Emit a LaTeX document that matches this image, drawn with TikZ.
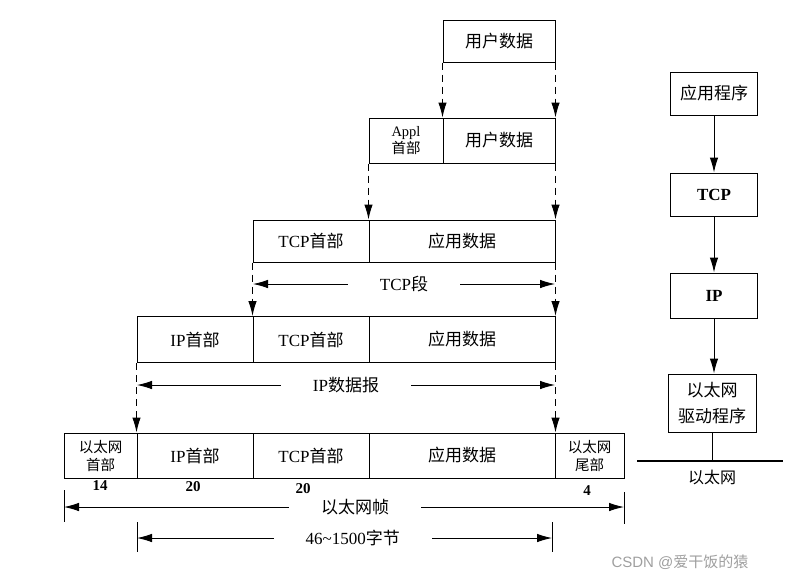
\documentclass[tikz,border=0pt]{standalone}
\usepackage{fontspec}
\setmainfont{Liberation Serif}
\newfontfamily\zh{Noto Sans CJK SC}
\newfontfamily\wmf{Liberation Sans}
\usetikzlibrary{arrows.meta}
\begin{document}
\begin{tikzpicture}[x=1pt,y=-1pt,
  cell/.style={draw,line width=1pt,inner sep=0pt,align=center,font=\fontsize{17}{20}\selectfont},
  smallzh/.style={font=\zh\fontsize{14.5}{18}\selectfont},
  sbox/.style={draw,line width=1pt,inner sep=0pt,minimum width=87pt,align=center,font=\fontsize{17}{26}\selectfont},
  dasharr/.style={line width=1pt,dash pattern=on 7pt off 5pt,-{Latex[length=15pt,width=8.5pt]}},
  dim/.style={line width=0.9pt,{Latex[length=15pt,width=8.5pt]}-{Latex[length=15pt,width=8.5pt]}},
  dimlabel/.style={fill=white,inner xsep=32pt,inner ysep=2pt,font=\fontsize{17}{20}\selectfont},
  num/.style={font=\bfseries\fontsize{15}{17}\selectfont},
  tickline/.style={line width=0.9pt},
  arr/.style={line width=1pt,-{Latex[length=15pt,width=8.5pt]}}
]
\useasboundingbox (0,0) rectangle (797,581);
% row 1
\node[cell,minimum width=112pt,minimum height=42pt] (u1) at (499,41) {\zh 用户数据};
% row 2
\node[cell,minimum width=74pt,minimum height=45pt,font=\fontsize{14.5}{17}\selectfont] (appl2) at (406,140.5) {Appl\\{\zh 首部}};
\node[cell,minimum width=112pt,minimum height=45pt] (u2) at (499,140.5) {\zh 用户数据};
% row 3
\node[cell,minimum width=116pt,minimum height=42pt] (tcp3) at (311,241) {TCP{\zh 首部}};
\node[cell,minimum width=186pt,minimum height=42pt] (app3) at (462,241) {\zh 应用数据};
% row 4
\node[cell,minimum width=116pt,minimum height=46pt] (ip4) at (195,339.5) {IP{\zh 首部}};
\node[cell,minimum width=116pt,minimum height=46pt] (tcp4) at (311,339.5) {TCP{\zh 首部}};
\node[cell,minimum width=186pt,minimum height=46pt] (app4) at (462,339.5) {\zh 应用数据};
% row 5
\node[cell,smallzh,minimum width=73pt,minimum height=45pt] (eth5) at (100.5,455.5) {以太网\\首部};
\node[cell,minimum width=116pt,minimum height=45pt] (ip5) at (195,455.5) {IP{\zh 首部}};
\node[cell,minimum width=116pt,minimum height=45pt] (tcp5) at (311,455.5) {TCP{\zh 首部}};
\node[cell,minimum width=186pt,minimum height=45pt] (app5) at (462,455.5) {\zh 应用数据};
\node[cell,smallzh,minimum width=69pt,minimum height=45pt] (tail5) at (589.5,455.5) {以太网\\尾部};
% dashed arrows
\draw[dasharr] (u1.south west) -- (u2.north west);
\draw[dasharr] (u1.south east) -- (u2.north east);
\draw[dasharr] (appl2.south west) -- (app3.north west);
\draw[dasharr] (u2.south east) -- (app3.north east);
\draw[dasharr] (tcp3.south west) -- (tcp4.north west);
\draw[dasharr] (app3.south east) -- (app4.north east);
\draw[dasharr] (ip4.south west) -- (ip5.north west);
\draw[dasharr] (app4.south east) -- (app5.north east);
% dimension lines
\coordinate (ta) at (253,284);
\coordinate (tb) at (555,284);
\draw[dim] (ta) -- node[dimlabel,pos=0.5] (tcplab) {TCP{\zh 段}} (tb);
\coordinate (ia) at (137,385);
\coordinate (ib) at (555,385);
\draw[dim] (ia) -- node[dimlabel,pos=0.5] (iplab) {IP{\zh 数据报}} (ib);
\coordinate (ea) at (64,507);
\coordinate (eb) at (624,507);
\coordinate (ea1) at (64,490);
\coordinate (ea2) at (64,522);
\coordinate (eb1) at (624,492);
\coordinate (eb2) at (624,524);
\draw[tickline] (ea1) -- (ea2);
\draw[tickline] (eb1) -- (eb2);
\draw[dim] (ea) -- node[dimlabel,pos=0.52] (ethlab) {\zh 以太网帧} (eb);
\coordinate (pa) at (137,538);
\coordinate (pb) at (552,538);
\coordinate (pa1) at (137,522);
\coordinate (pa2) at (137,552);
\coordinate (pb1) at (552,522);
\coordinate (pb2) at (552,552);
\draw[tickline] (pa1) -- (pa2);
\draw[tickline] (pb1) -- (pb2);
\draw[dim] (pa) -- node[dimlabel,pos=0.52] (paylab) {46\char`\~1500{\zh 字节}} (pb);
% byte counts
\node[num] (n14) at (100,486) {14};
\node[num] (n20a) at (193,487) {20};
\node[num] (n20b) at (303,489) {20};
\node[num] (n4) at (587,491) {4};
% right stack
\node[sbox,minimum height=43pt] (s1) at (714,93.5) {\zh 应用程序};
\node[sbox,minimum height=43pt] (s2) at (714,194.5) {\bfseries TCP};
\node[sbox,minimum height=45pt] (s3) at (714,295.5) {\bfseries IP};
\node[sbox,minimum height=58pt,minimum width=88pt,font=\zh\fontsize{17}{26}\selectfont] (s4) at (712,403) {以太网\\驱动程序};
\draw[arr] (s1.south) -- (s2.north);
\draw[arr] (s2.south) -- (s3.north);
\draw[arr] (s3.south) -- (s3.south |- s4.north);
\coordinate (la) at (637,461);
\coordinate (lb) at (783,461);
\draw[line width=2.6pt] (la) -- (lb);
\draw[line width=1pt] (s4.south) -- (s4.south |- la);
\node[font=\fontsize{16}{19}\selectfont] (ethnet) at (712,477) {\zh 以太网};
% watermark
\node[anchor=west,text=gray!75,font=\fontsize{15}{18}\selectfont] (wm) at (608,562) {\wmf CSDN @{\zh 爱干饭的猿}};
\end{tikzpicture}
\end{document}
